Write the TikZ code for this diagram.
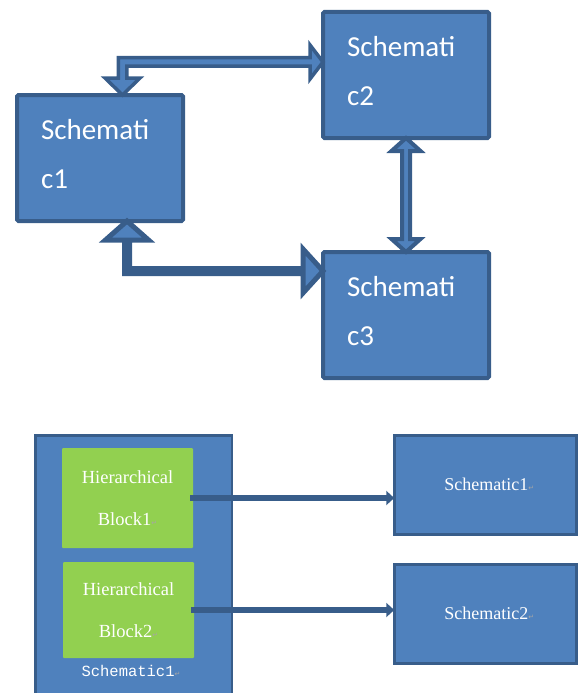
\documentclass[tikz,border=0pt]{standalone}
\usepackage{fontspec}
\setmainfont{Liberation Serif}
\newfontfamily\calfont{Carlito}
\newfontfamily\labfont{Liberation Mono}
\newfontfamily\symfont{DejaVu Sans}
\usetikzlibrary{arrows.meta,calc}
\definecolor{boxfill}{HTML}{4F81BD}
\definecolor{boxline}{HTML}{385D8A}
\definecolor{leaf}{HTML}{92D050}
\newcommand\pmark{{\symfont\fontsize{7}{7}\selectfont\textcolor{black!35}{↵}}}
\newcommand\lift{\par\vspace*{8pt}}
\tikzset{
  topbox/.style={draw=boxline, fill=boxfill, line width=4pt, rounded corners=1.5pt,
    minimum height=126pt, text width=118pt, inner xsep=24pt, inner ysep=0pt, outer sep=0pt,
    align=left, text=white, anchor=north west, font=\calfont\fontsize{29}{49}\selectfont},
  barrow/.style={draw=boxline, fill=boxfill, line join=miter, miter limit=10},
  lowbox/.style={draw=boxline, fill=boxfill, line width=2.5pt, outer sep=0pt, anchor=north west},
  greenbox/.style={fill=leaf, rounded corners=1pt, minimum width=131pt, minimum height=100pt,
    anchor=north west, align=center, text=white, outer sep=0pt,
    font=\fontsize{18.5}{42}\selectfont},
  link/.style={draw=boxline, line width=6pt, -{Triangle[width=14pt,length=8pt]}}
}
\begin{document}
\begin{tikzpicture}[x=1pt,y=-1pt]
\useasboundingbox (0,0) rectangle (580,693);
\clip (0,0) rectangle (580,693);
% top boxes
\node[topbox] (c1) at (17,95) {Schemati\\c1\lift};
\node[topbox] (c2) at (323,12) {Schemati\\c2\lift};
\node[topbox] (c3) at (323,252) {Schemati\\c3\lift};
% arrow c1 <-> c2
\coordinate (a1s) at (122.5,0 |- c1.north);
\coordinate (a1e) at (c2.west |- 0,62);
\draw[barrow, line width=3.5pt] (a1s) -- ++(17.5,-17) -- ++(-13.25,0) -- ($(a1s |- a1e)+(4.25,4.25)$)
  -- ($(a1e)+(-13,4.25)$) -- ++(0,12.75) -- (a1e) -- ++(-13,-17) -- ++(0,12.75)
  -- ($(a1s |- a1e)+(-4.25,-4.25)$) -- ($(a1s)+(-4.25,-17)$) -- ++(-13.25,0) -- cycle;
% arrow c1 <-> c3
\coordinate (a2s) at (127,0 |- c1.south);
\coordinate (a2e) at (c3.west |- 0,271);
\draw[barrow, line width=5pt] (a2s) -- ++(21.5,19) -- ++(-19,0) -- ($(a2s |- a2e)+(2.5,-2.5)$)
  -- ($(a2e)+(-20,-2.5)$) -- ++(0,-19.5) -- (a2e) -- ++(-20,22) -- ++(0,-19.5)
  -- ($(a2s |- a2e)+(-2.5,2.5)$) -- ($(a2s)+(-2.5,19)$) -- ++(-19,0) -- cycle;
% arrow c2 <-> c3
\coordinate (a3s) at (406,0 |- c2.south);
\coordinate (a3e) at (406,0 |- c3.north);
\draw[barrow, line width=4pt] (a3s) -- ++(14.5,13) -- ++(-10.5,0) -- ($(a3e)+(4,-13)$)
  -- ++(10.5,0) -- (a3e) -- ++(-14.5,-13) -- ++(10.5,0) -- ($(a3s)+(-4,13)$)
  -- ++(-10.5,0) -- cycle;
% bottom part
\node[lowbox, minimum width=196.5pt, minimum height=265pt] (s) at (35.25,435.25) {};
\node[greenbox] (h1) at (62,448) {Hierarchical\\Block1\pmark};
\node[greenbox, minimum height=96pt] (h2) at (63,562) {Hierarchical\\Block2\pmark};
\node[text=white, font=\labfont\fontsize{15.5}{15.5}\selectfont, inner sep=0pt] (sl) at (131,671) {Schematic1\pmark};
\node[lowbox, minimum width=182pt, minimum height=99pt, text=white, font=\fontsize{18}{18}\selectfont]
  (r1) at (394.25,435.25) {\hspace*{8pt}Schematic1\pmark};
\node[lowbox, minimum width=182pt, minimum height=99pt, text=white, font=\fontsize{18}{18}\selectfont]
  (r2) at (394.25,564.25) {\hspace*{8pt}Schematic2\pmark};
\draw[link] ([xshift=-3pt]h1.east) -- (h1.east -| r1.west);
\draw[link] ([xshift=-3pt]h2.east) -- (h2.east -| r2.west);
\end{tikzpicture}
\end{document}
